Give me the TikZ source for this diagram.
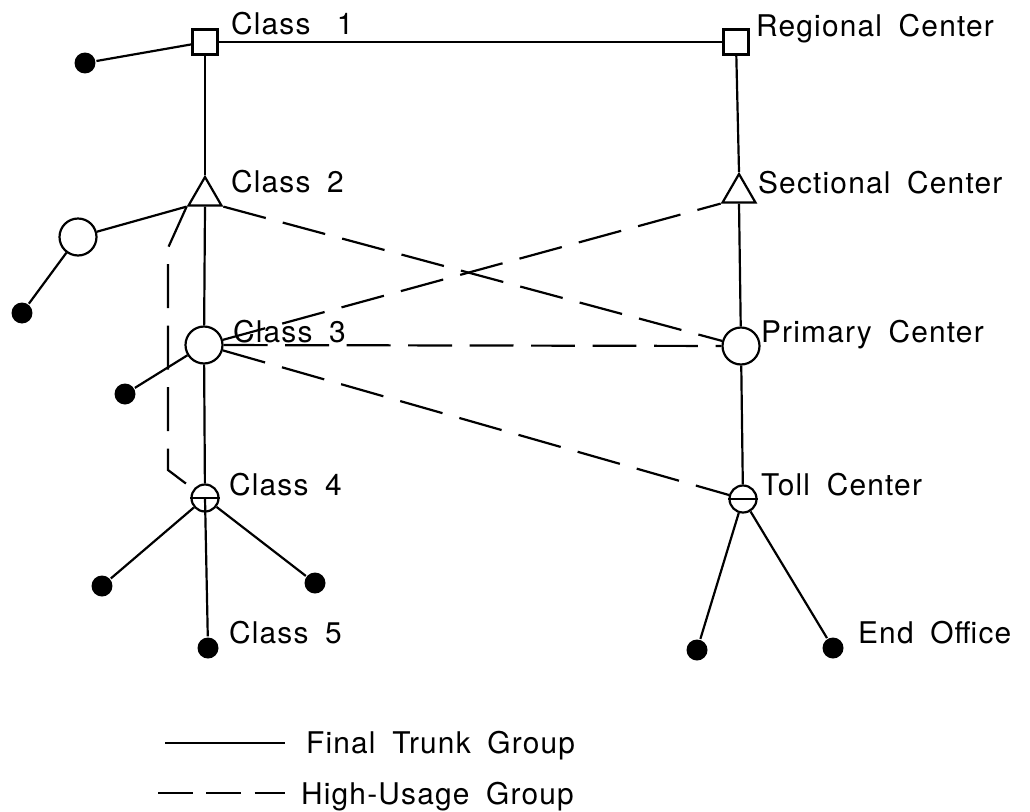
\documentclass[tikz,border=0pt]{standalone}
\usepackage{fontspec}
\setmainfont{TeX Gyre Heros}[LetterSpace=4]
\usetikzlibrary{shapes.geometric}
\newcommand\mylblfont{\fontsize{17}{20}\selectfont\spaceskip=9.5pt plus 0pt\relax}
\begin{document}
\begin{tikzpicture}[x=0.02cm,y=-0.02cm, line width=1.25pt,
  sq/.style={draw, rectangle, minimum size=0.5cm, inner sep=0pt, fill=white},
  tri/.style={draw, regular polygon, regular polygon sides=3, minimum size=0.76cm, inner sep=0pt},
  bigc/.style={draw, circle, minimum size=0.74cm, inner sep=0pt},
  smallc/.style={draw, circle, minimum size=0.54cm, inner sep=0pt},
  dot/.style={fill, circle, minimum size=0.42cm, inner sep=0pt},
  lbl/.style={anchor=base west, inner sep=0pt, font=\mylblfont},
  hu/.style={dash pattern=on 25pt off 10pt},
  legdash/.style={dash pattern=on 20pt off 7.5pt}]
\useasboundingbox (0,0) rectangle (1030,811);
% nodes
\node[sq] (r1) at (205,42) {};
\node[sq] (r2) at (736,42) {};
\node[tri] (s1) at (205,196) {};
\node[tri] (s2) at (739,193) {};
\node[bigc] (p1) at (204,345) {};
\node[bigc] (p2) at (741,346) {};
\node[smallc] (t1) at (205,498) {};
\node[smallc] (t2) at (743,499) {};
\node[bigc] (lc) at (78,237) {};
\node[dot] (d1) at (85,63) {};
\node[dot] (d2) at (22,313) {};
\node[dot] (d3) at (125,394) {};
\node[dot] (d4) at (102,586) {};
\node[dot] (d5) at (315,583) {};
\node[dot] (d6) at (208,648) {};
\node[dot] (d7) at (697,650) {};
\node[dot] (d8) at (833,648) {};
% labels
\node[lbl] (l1) at (230,35) {Class\hspace{15pt}1};
\node[lbl] (l2) at (755,37) {Regional Center};
\node[lbl] (l3) at (230,192) {Class 2};
\node[lbl] (l4) at (757,193) {Sectional Center};
\node[lbl] (l5) at (232,342) {Class 3};
\node[lbl] (l6) at (760,342) {Primary Center};
\node[lbl] (l7) at (228,495) {Class 4};
\node[lbl] (l8) at (760,495) {Toll Center};
\node[lbl] (l9) at (228,643) {Class 5};
\node[lbl] (l10) at (857,643) {End Office};
% solid (final) trunks
\draw (r1) -- (r2);
\draw (r1) -- (d1);
\draw (r1) -- (s1.corner 1);
\draw (r2) -- (s2.corner 1);
\draw (s1.south) -- (p1);
\draw (s2.south) -- (p2);
\draw (s1.corner 2) -- (lc);
\draw (lc) -- (d2);
\draw (p1) -- (d3);
\draw (p1) -- (t1);
\draw (t1.center) -- (d6);
\draw (t1) -- (d4);
\draw (t1) -- (d5);
\draw (t1.west) -- (t1.east);
\draw (p2) -- (t2);
\draw (t2) -- (d7);
\draw (t2) -- (d8);
\draw (t2.west) -- (t2.east);
% high-usage groups
\coordinate (k1) at (168,248);
\coordinate (k2) at (168,470);
\draw[hu] (s1.corner 3) -- (p2);
\draw[hu] (p1) -- (s2.corner 2);
\draw[hu] (p1) -- (p2);
\draw[hu] (p1) -- (t2);
\draw[hu] (s1.corner 2) -- (k1) -- (k2) -- (t1);
% legend
\coordinate (a1) at (165,743);
\coordinate (a2) at (285,743);
\coordinate (b1) at (158,793);
\coordinate (b2) at (285,793);
\draw (a1) -- (a2);
\draw[legdash] (b1) -- (b2);
\node[lbl] (lg1) at (305,753) {Final Trunk Group};
\node[lbl] (lg2) at (300,804) {High-Usage Group};
\end{tikzpicture}
\end{document}
